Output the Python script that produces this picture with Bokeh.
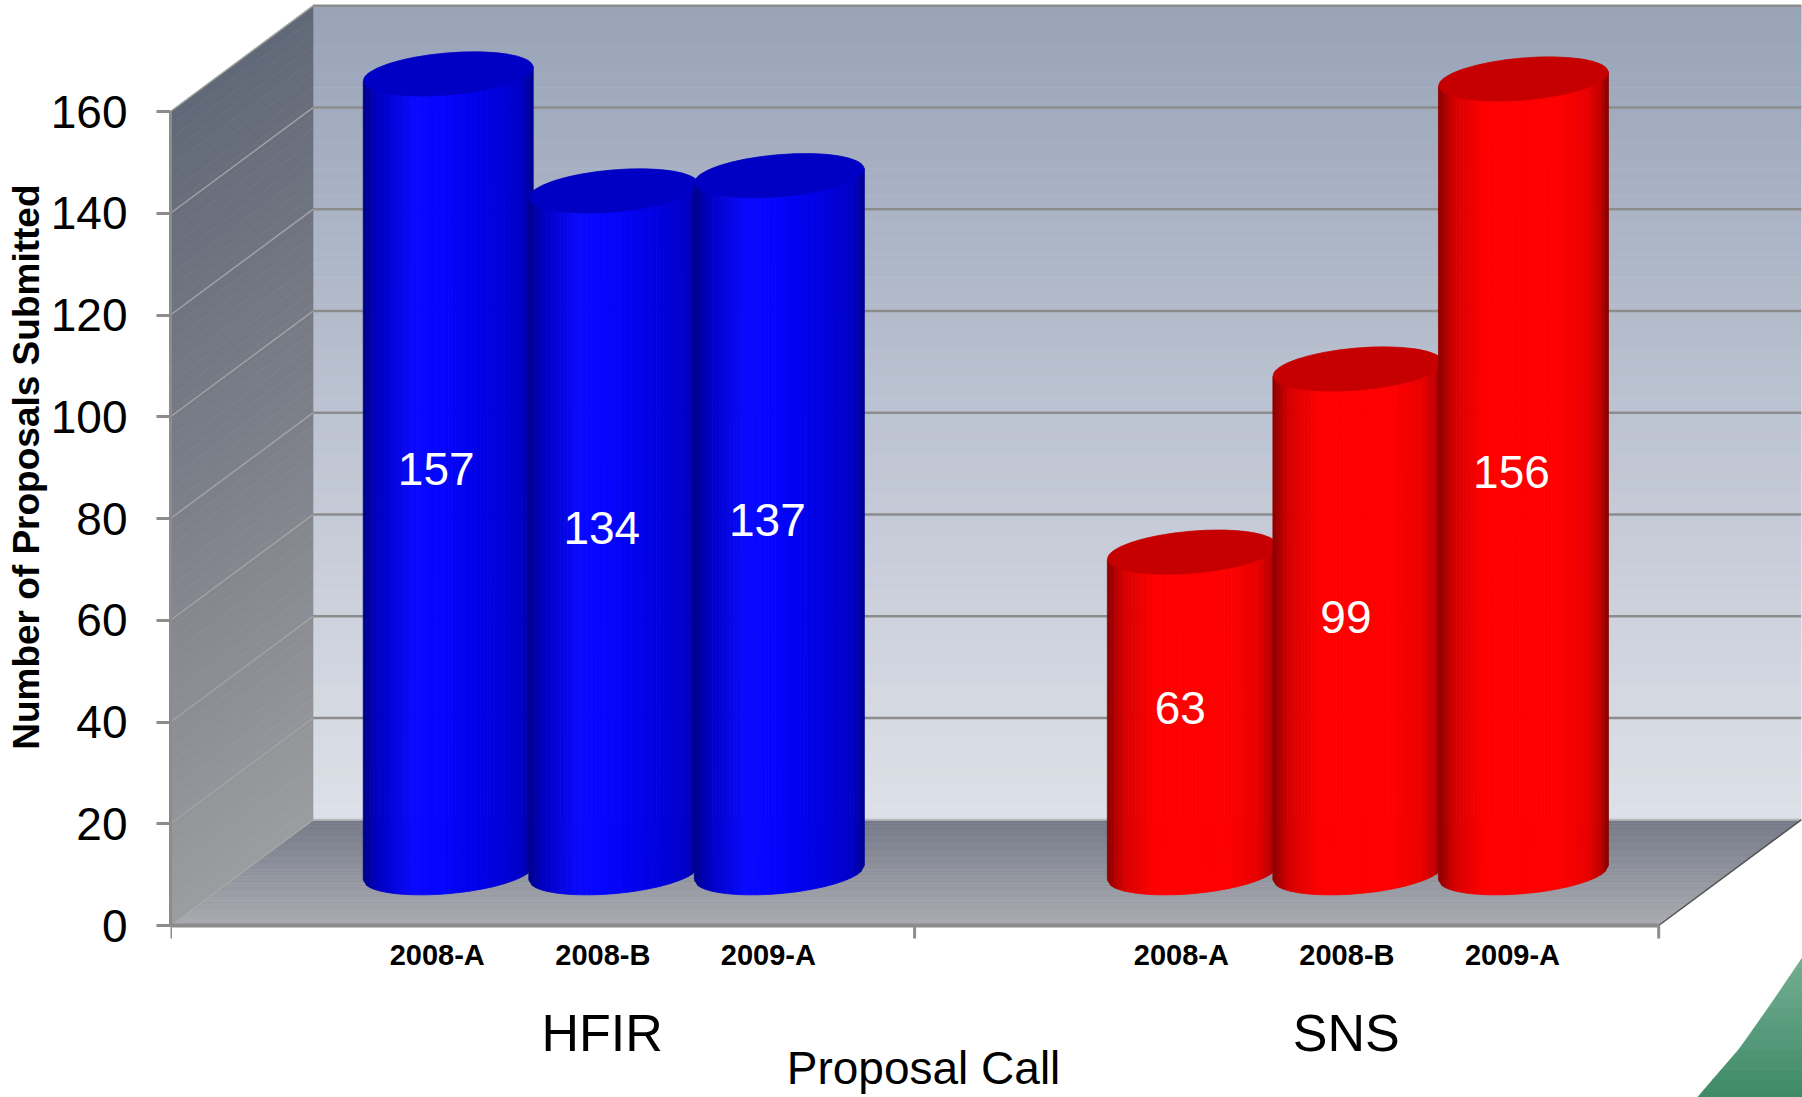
import numpy as np
from bokeh.plotting import figure
from bokeh.models import Range1d, LinearAxis, FixedTicker, Title
from bokeh.core.properties import value
from bokeh.embed import file_html
from bokeh.resources import INLINE

# ---------------- data ----------------
facilities = ["HFIR", "SNS"]
calls = ["2008-A", "2008-B", "2009-A"]
hfir_values = [157, 134, 137]
sns_values = [63, 99, 156]
y_ticks = [0, 20, 40, 60, 80, 100, 120, 140, 160]
y_title = "Number of Proposals Submitted"
x_title = "Proposal Call"

# ---------------- geometry / style ----------------
W, H = 1802, 1097
LEFT = 170
PX_X = 744.1          # px per group
PX_Y = 5.0875         # px per proposal
ZERO_CY = 925         # canvas y of value 0 on the front plane
Y_TOP = ZERO_CY / PX_Y
Y_BOT = -(H - ZERO_CY) / PX_Y
X_END = (W - LEFT) / PX_X
DX = 142.5 / PX_X     # depth offset (x)
DY = 105.7 / PX_Y     # depth offset (y)
WALL = y_ticks[-1]
NG = len(facilities)
SLOT = 0.2225
A_PX, B_PX = 85.0, 21.0
THETA = 0.085
FONT = "Liberation Sans"


def hx(c):
    c = c.lstrip("#")
    return np.array([int(c[i:i + 2], 16) for i in (0, 2, 4)], dtype=float)


def grad(stops, t):
    ts = [s[0] for s in stops]
    cs = [hx(s[1]) for s in stops]
    for i in range(len(ts) - 1):
        if t <= ts[i + 1]:
            f = (t - ts[i]) / (ts[i + 1] - ts[i])
            c = cs[i] * (1 - f) + cs[i + 1] * f
            break
    else:
        c = cs[-1]
    return "#%02x%02x%02x" % tuple(int(round(v)) for v in c)


def rx(px):
    return (px - LEFT) / PX_X


def ry(py):
    return (ZERO_CY - py) / PX_Y


p = figure(width=W, height=H, x_range=Range1d(0, X_END), y_range=Range1d(Y_BOT, Y_TOP),
           output_backend="svg", toolbar_location=None,
           x_axis_location=None, y_axis_location=None,
           min_border_left=LEFT, min_border_right=0, min_border_top=0, min_border_bottom=0)
p.outline_line_color = None
p.background_fill_color = "white"
p.border_fill_color = "white"
p.title.visible = False
p.xgrid.grid_line_color = None
p.ygrid.grid_line_color = None

# ---------------- back wall ----------------
back_stops = [(0, "#dde1e8"), (0.5, "#bcc3d1"), (1, "#98a3b8")]
NB = 60
vb = np.linspace(0, WALL, NB + 1)
bcols = [grad(back_stops, (i + 0.5) / NB) for i in range(NB)]
p.quad(left=[DX] * NB, right=[NG + DX] * NB, bottom=list(vb[:-1] + DY), top=list(vb[1:] + DY),
       fill_color=bcols, line_color=bcols, line_width=0.6)

# ---------------- side wall ----------------
side_stops = [(0, "#9b9c9f"), (0.5, "#7c8089"), (1, "#616877")]
xs, ys, cs = [], [], []
for i in range(NB):
    v0, v1 = vb[i], vb[i + 1]
    xs.append([0, 0, DX, DX])
    ys.append([v0, v1, v1 + DY, v0 + DY])
    cs.append(grad(side_stops, (i + 0.5) / NB))
p.patches(xs, ys, fill_color=cs, line_color=cs, line_width=0.6)

# ---------------- floor ----------------
floor_stops = [(0, "#aaacb1"), (1, "#757a88")]
NF = 30
tf = np.linspace(0, 1, NF + 1)
xs, ys, cs = [], [], []
for i in range(NF):
    t0, t1 = tf[i], tf[i + 1]
    xs.append([t0 * DX, NG + t0 * DX, NG + t1 * DX, t1 * DX])
    ys.append([t0 * DY, t0 * DY, t1 * DY, t1 * DY])
    cs.append(grad(floor_stops, (i + 0.5) / NF))
p.patches(xs, ys, fill_color=cs, line_color=cs, line_width=0.6)

# ---------------- grid lines ----------------
grid_vals = y_ticks[1:]
p.segment(x0=[DX] * len(grid_vals), y0=[v + DY for v in grid_vals],
          x1=[NG + DX] * len(grid_vals), y1=[v + DY for v in grid_vals],
          line_color="#8c8c8c", line_width=2.5)
p.segment(x0=[0] * len(grid_vals), y0=grid_vals, x1=[DX] * len(grid_vals),
          y1=[v + DY for v in grid_vals], line_color="#a3a3a3", line_width=1.5)
p.segment(x0=[DX], y0=[DY], x1=[NG + DX], y1=[DY], line_color="#b8babd", line_width=2)
p.segment(x0=[0], y0=[0], x1=[DX], y1=[DY], line_color="#a8a8a8", line_width=1.5)
p.segment(x0=[NG], y0=[0], x1=[NG + DX], y1=[DY], line_color="#555555", line_width=1.5)
p.segment(x0=[0], y0=[0], x1=[NG], y1=[0], line_color="#8c8c8c", line_width=4)
# category-group tick marks
p.segment(x0=list(range(NG + 1)), y0=[0] * (NG + 1), x1=list(range(NG + 1)),
          y1=[-13 / PX_Y] * (NG + 1), line_color="#8c8c8c", line_width=3)

# ---------------- cylinders ----------------
blue_stops = [(0, "#000088"), (0.08, "#0000c0"), (0.3, "#0a0aff"), (0.45, "#0505ff"),
              (0.75, "#0000e2"), (0.93, "#0000c8"), (1.0, "#000090")]
red_stops = [(0, "#8a0000"), (0.1, "#d80000"), (0.28, "#ff0000"), (0.7, "#ff0000"),
             (0.88, "#ea0000"), (0.96, "#c00000"), (1.0, "#7a0000")]
series = [(hfir_values, blue_stops, "#0000c4"), (sns_values, red_stops, "#c60000")]

tan = np.tan(THETA)
N = 48
us = np.linspace(-1, 1, N + 1)
lab_x, lab_y, lab_t = [], [], []
cat_x, cat_t = [], []
for g, (vals, stops, top_col) in enumerate(series):
    for k, v in enumerate(vals):
        front = g + 0.5 + (k - 1) * SLOT
        xc = front + DX / 2
        base = DY / 2
        top = v + DY / 2
        xe = xc + us * A_PX / PX_X
        te = top + us * A_PX * tan / PX_Y
        be = base + (us * A_PX * tan - B_PX * np.sqrt(np.clip(1 - us ** 2, 0, 1))) / PX_Y
        sx, sy, sc = [], [], []
        for i in range(N):
            sx.append([xe[i], xe[i + 1], xe[i + 1], xe[i]])
            sy.append([te[i], te[i + 1], be[i + 1], be[i]])
            sc.append(grad(stops, (i + 0.5) / N))
        p.patches(sx, sy, fill_color=sc, line_color=sc, line_width=0.8)
        p.ellipse(x=[xc], y=[top], width=2 * A_PX / PX_X, height=2 * B_PX / PX_Y,
                  angle=THETA, fill_color=top_col, line_color=top_col, line_width=0.8)
        lab_x.append(xc - 12 / PX_X)
        lab_y.append(v / 2 + DY / 2 + 4 / PX_Y)
        lab_t.append(str(v))
        cat_x.append(front + 0.081)
        cat_t.append(calls[k])

p.text(x=lab_x, y=lab_y, text=lab_t, text_color="white", text_font=value(FONT),
       text_font_size="46px", text_align="center", text_baseline="middle")

# ---------------- category labels ----------------
p.text(x=cat_x, y=[-29 / PX_Y] * len(cat_x), text=cat_t, text_color="black",
       text_font=value(FONT), text_font_style="bold", text_font_size="29px",
       text_align="center", text_baseline="middle")
p.text(x=[g + 0.58 for g in range(NG)], y=[-107 / PX_Y] * NG, text=facilities,
       text_color="black", text_font=value(FONT), text_font_size="52px",
       text_align="center", text_baseline="middle")
p.text(x=[NG / 2 + 0.012], y=[-142 / PX_Y], text=[x_title], text_color="black",
       text_font=value(FONT), text_font_size="46px", text_align="center",
       text_baseline="middle")

# ---------------- decorative swoosh (slide corner) ----------------
sw_y = [957, 1000, 1047, 1097]
sw_x = [1802, 1773, 1740, 1697]
sw_stops = [(0, "#74ae93"), (1, "#3d8966")]
NS = 14
yy = np.linspace(957, 1100, NS + 1)
xs, ys, cs = [], [], []
for i in range(NS):
    y0, y1 = yy[i], yy[i + 1]
    x0 = np.interp(y0, sw_y, sw_x, right=1697 - (y0 - 1097) * 0.86)
    x1 = np.interp(y1, sw_y, sw_x, right=1697 - (y1 - 1097) * 0.86)
    xs.append([rx(x0), rx(1815), rx(1815), rx(x1)])
    ys.append([ry(y0), ry(y0), ry(y1), ry(y1)])
    cs.append(grad(sw_stops, (i + 0.5) / NS))
p.patches(xs, ys, fill_color=cs, line_color=cs, line_width=0.8)

# ---------------- y axis ----------------
yax = LinearAxis(ticker=FixedTicker(ticks=y_ticks), bounds=(0, WALL))
yax.axis_line_color = "#8c8c8c"
yax.axis_line_width = 3
yax.major_tick_out = 14
yax.major_tick_in = 0
yax.major_tick_line_color = "#8c8c8c"
yax.major_tick_line_width = 3
yax.minor_tick_line_color = None
yax.major_label_text_font = FONT
yax.major_label_text_font_size = "46px"
yax.major_label_text_color = "black"
yax.major_label_standoff = 29
p.add_layout(yax, "left")

ytitle = Title(text=y_title, align="right", offset=184, vertical_align="middle",
               standoff=0, text_font=FONT, text_font_style="bold",
               text_font_size="37px", text_color="black")
p.add_layout(ytitle, "left")

open("out.html", "w").write(file_html(p, INLINE))
